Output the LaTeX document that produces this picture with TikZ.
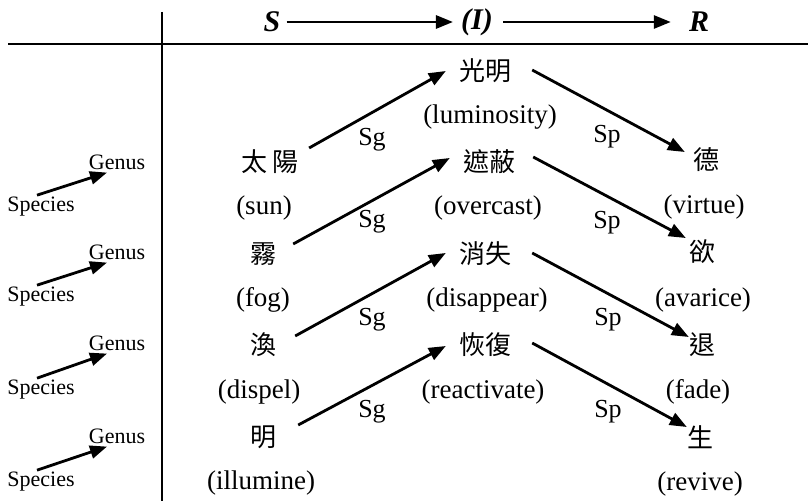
\documentclass[tikz,border=0pt]{standalone}
\usepackage{fontspec}
\setmainfont{Liberation Serif}
\newfontfamily\cjk{Noto Sans CJK TC}
\usetikzlibrary{arrows.meta}

\begin{document}
\begin{tikzpicture}[x=1bp,y=-1bp,>={Triangle[length=17bp,width=13bp]}]
    \tikzset{word/.style={inner sep=0pt,font=\cjk\fontsize{26bp}{28bp}\selectfont},
      gloss/.style={inner sep=0pt,font=\fontsize{27bp}{30bp}\selectfont},
      rel/.style={inner sep=0pt,font=\fontsize{26bp}{28bp}\selectfont},
      lvl/.style={inner sep=0pt,font=\fontsize{22bp}{24bp}\selectfont},
      head/.style={inner sep=0pt,font=\fontsize{30bp}{32bp}\selectfont\bfseries\itshape},
      link/.style={->,line width=2.8bp}}
    \useasboundingbox (0,0) rectangle (808,501);
    \draw[line width=2.2bp] (8,44) -- (808,44);
    \draw[line width=2.4bp] (162,12) -- (162,501);
    % header
    \node[head] (hs) at (272,22) {S};
    \node[head] (hi) at (477,22) {(I)};
    \node[head] (hr) at (699,22) {R};
    \draw[link] ([xshift=6bp]hs.east) -- ([xshift=-8bp]hi.west);
    \draw[link] ([xshift=10bp]hi.east) -- ([xshift=-18bp]hr.west);
    % species -> genus
    \node[lvl] (g1) at (117,162) {Genus};
    \node[lvl] (p1) at (41,207) {Species};
    \node[lvl] (g2) at (117,252) {Genus};
    \node[lvl] (p2) at (41,297) {Species};
    \node[lvl] (g3) at (117,343) {Genus};
    \node[lvl] (p3) at (41,390) {Species};
    \node[lvl] (g4) at (117,436) {Genus};
    \node[lvl] (p4) at (41,482) {Species};
    \draw[link] ([xshift=-4bp,yshift=2bp]p1.north) -- ([xshift=-10bp,yshift=-3bp]g1.south);
    \draw[link] ([xshift=-4bp,yshift=2bp]p2.north) -- ([xshift=-10bp,yshift=-3bp]g2.south);
    \draw[link] ([xshift=-4bp,yshift=2bp]p3.north) -- ([xshift=-10bp,yshift=-3bp]g3.south);
    \draw[link] ([xshift=-4bp,yshift=2bp]p4.north) -- ([xshift=-10bp,yshift=-3bp]g4.south);
    % S column
    \node[word] (s1) at (270,162) {太 陽};
    \node[gloss] (s1e) at (264,208) {(sun)};
    \node[word] (s2) at (263,254) {霧};
    \node[gloss] (s2e) at (263,300) {(fog)};
    \node[word] (s3) at (263,345) {渙};
    \node[gloss] (s3e) at (259,392) {(dispel)};
    \node[word] (s4) at (263,437) {明};
    \node[gloss] (s4e) at (261,483) {(illumine)};
    % (I) column
    \node[word] (i1) at (485,71) {光明};
    \node[gloss] (i1e) at (490,117) {(luminosity)};
    \node[word] (i2) at (489,162) {遮蔽};
    \node[gloss] (i2e) at (488,208) {(overcast)};
    \node[word] (i3) at (485,254) {消失};
    \node[gloss] (i3e) at (487,300) {(disappear)};
    \node[word] (i4) at (485,345) {恢復};
    \node[gloss] (i4e) at (483,392) {(reactivate)};
    % R column
    \node[word] (r1) at (706,160) {德};
    \node[gloss] (r1e) at (704,207) {(virtue)};
    \node[word] (r2) at (702,252) {欲};
    \node[gloss] (r2e) at (703,300) {(avarice)};
    \node[word] (r3) at (702,345) {退};
    \node[gloss] (r3e) at (698,392) {(fade)};
    \node[word] (r4) at (700,437) {生};
    \node[gloss] (r4e) at (700,484) {(revive)};
    % Sg / Sp links
    \draw[link] ([xshift=10bp,yshift=14bp]s1.east) -- ([xshift=-13bp,yshift=0bp]i1.west);
    \draw[link] ([xshift=17bp,yshift=10bp]s2.east) -- ([xshift=-13bp,yshift=4bp]i2.west);
    \draw[link] ([xshift=19bp,yshift=9bp]s3.east) -- ([xshift=-13bp,yshift=1bp]i3.west);
    \draw[link] ([xshift=22bp,yshift=12bp]s4.east) -- ([xshift=-13bp,yshift=-1bp]i4.west);
    \draw[link] ([xshift=21bp,yshift=1bp]i1.east) -- ([xshift=-8bp,yshift=8bp]r1.west);
    \draw[link] ([xshift=18bp,yshift=5bp]i2.east) -- ([xshift=-3bp,yshift=14bp]r2.west);
    \draw[link] ([xshift=21bp,yshift=1bp]i3.east) -- ([xshift=0bp,yshift=8bp]r3.west);
    \draw[link] ([xshift=21bp,yshift=2bp]i4.east) -- ([xshift=0bp,yshift=10bp]r4.west);
    \node[rel] (sg1) at (372,140) {Sg};
    \node[rel] (sg2) at (372,222) {Sg};
    \node[rel] (sg3) at (372,320) {Sg};
    \node[rel] (sg4) at (372,412) {Sg};
    \node[rel] (sp1) at (607,137) {Sp};
    \node[rel] (sp2) at (607,223) {Sp};
    \node[rel] (sp3) at (608,320) {Sp};
    \node[rel] (sp4) at (608,412) {Sp};
  \end{tikzpicture}
\end{document}
